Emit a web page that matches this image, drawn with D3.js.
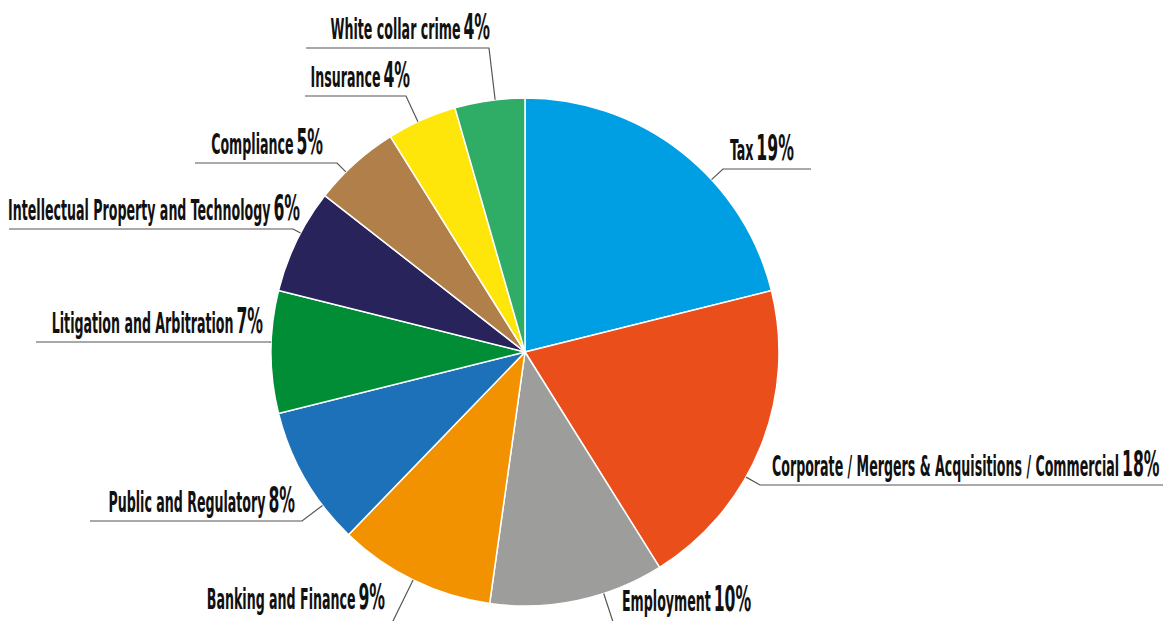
<!DOCTYPE html>
<html>
<head>
<meta charset="utf-8">
<script src="https://cdn.jsdelivr.net/npm/d3@7"></script>
<style>
  body { margin: 0; background: #fff; }
  text { font-family: "Liberation Sans Narrow", "DejaVu Sans Condensed", "Roboto", sans-serif; font-weight: bold; }
</style>
</head>
<body>
<div id="chart"></div>
<script>
const categories = ['Tax', 'Corporate / Mergers & Acquisitions / Commercial', 'Employment', 'Banking and Finance',
  'Public and Regulatory', 'Litigation and Arbitration', 'Intellectual Property and Technology',
  'Compliance', 'Insurance', 'White collar crime']
const shares = [19, 18, 10, 9, 8, 7, 6, 5, 4, 4]
const colors = ['#009fe3', '#e94e1b', '#9d9d9c', '#f39200', '#1d71b8', '#008d36', '#29235c', '#b17f4a', '#ffe60a', '#2fac66']

// label placement: elbow of the leader line, far end of the horizontal rule, text anchor, baseline
const labelLayout = [
  { ex: 723, ey: 169, lineTo: 811, tx: 730, ty: 160, side: 'start' },
  { ex: 760, ey: 485, lineTo: 1163, tx: 772, ty: 476, side: 'start' },
  { ex: 614, ey: 625, lineTo: 760, tx: 622, ty: 611, side: 'start' },
  { ex: 392, ey: 623, lineTo: 200, tx: 385, ty: 609, side: 'end' },
  { ex: 302, ey: 521, lineTo: 90, tx: 295, ty: 512, side: 'end' },
  { ex: 268, ey: 342, lineTo: 36, tx: 263, ty: 333, side: 'end' },
  { ex: 293, ey: 229, lineTo: 9, tx: 300, ty: 220, side: 'end' },
  { ex: 337, ey: 163, lineTo: 195, tx: 323, ty: 154, side: 'end' },
  { ex: 406, ey: 96, lineTo: 305, tx: 410, ty: 87, side: 'end' },
  { ex: 489, ey: 48, lineTo: 306, tx: 490, ty: 39, side: 'end' }
]

const width = 1167
const height = 621
const cx = 525
const cy = 352
const radius = 254

const svg = d3.select('#chart').append('svg')
  .attr('width', width)
  .attr('height', height)

const pie = d3.pie().sort(null).value(d => d)
const arc = d3.arc().innerRadius(0).outerRadius(radius)
const arcs = pie(shares)

const g = svg.append('g').attr('transform', `translate(${cx},${cy})`)

g.selectAll('path.slice')
  .data(arcs)
  .join('path')
  .attr('class', 'slice')
  .attr('d', arc)
  .attr('fill', (d, i) => colors[i])
  .attr('stroke', '#fff')
  .attr('stroke-width', 1.5)

// leader lines, pointing from the elbow back towards the centre until they hit the rim
const lines = svg.append('g')
labelLayout.forEach((l) => {
  const vx = l.ex - cx, vy = l.ey - cy
  const dist = Math.sqrt(vx * vx + vy * vy)
  const px = cx + vx * radius / dist
  const py = cy + vy * radius / dist
  lines.append('path')
    .attr('d', `M${px},${py} L${l.ex},${l.ey} L${l.lineTo},${l.ey}`)
    .attr('fill', 'none')
    .attr('stroke', '#555')
    .attr('stroke-width', 1.2)
})

// labels
const labels = svg.append('g')
const labelNodes = labelLayout.map((l, i) => {
  const t = labels.append('text')
    .attr('text-anchor', l.side)
    .attr('fill', '#111')
  t.append('tspan').attr('class', 'name').attr('font-size', 29).text(categories[i])
  t.append('tspan').attr('dx', 6).attr('font-size', 36).text(shares[i] + '%')
  return t
})

// condense the type to match the narrow display face
const probe = labelNodes[9].select('tspan.name').node().getComputedTextLength()
const sx = 130 / probe
labelNodes.forEach((t, i) => {
  const l = labelLayout[i]
  t.attr('transform', `translate(${l.tx},${l.ty}) scale(${sx},1)`)
})
</script>
</body>
</html>
